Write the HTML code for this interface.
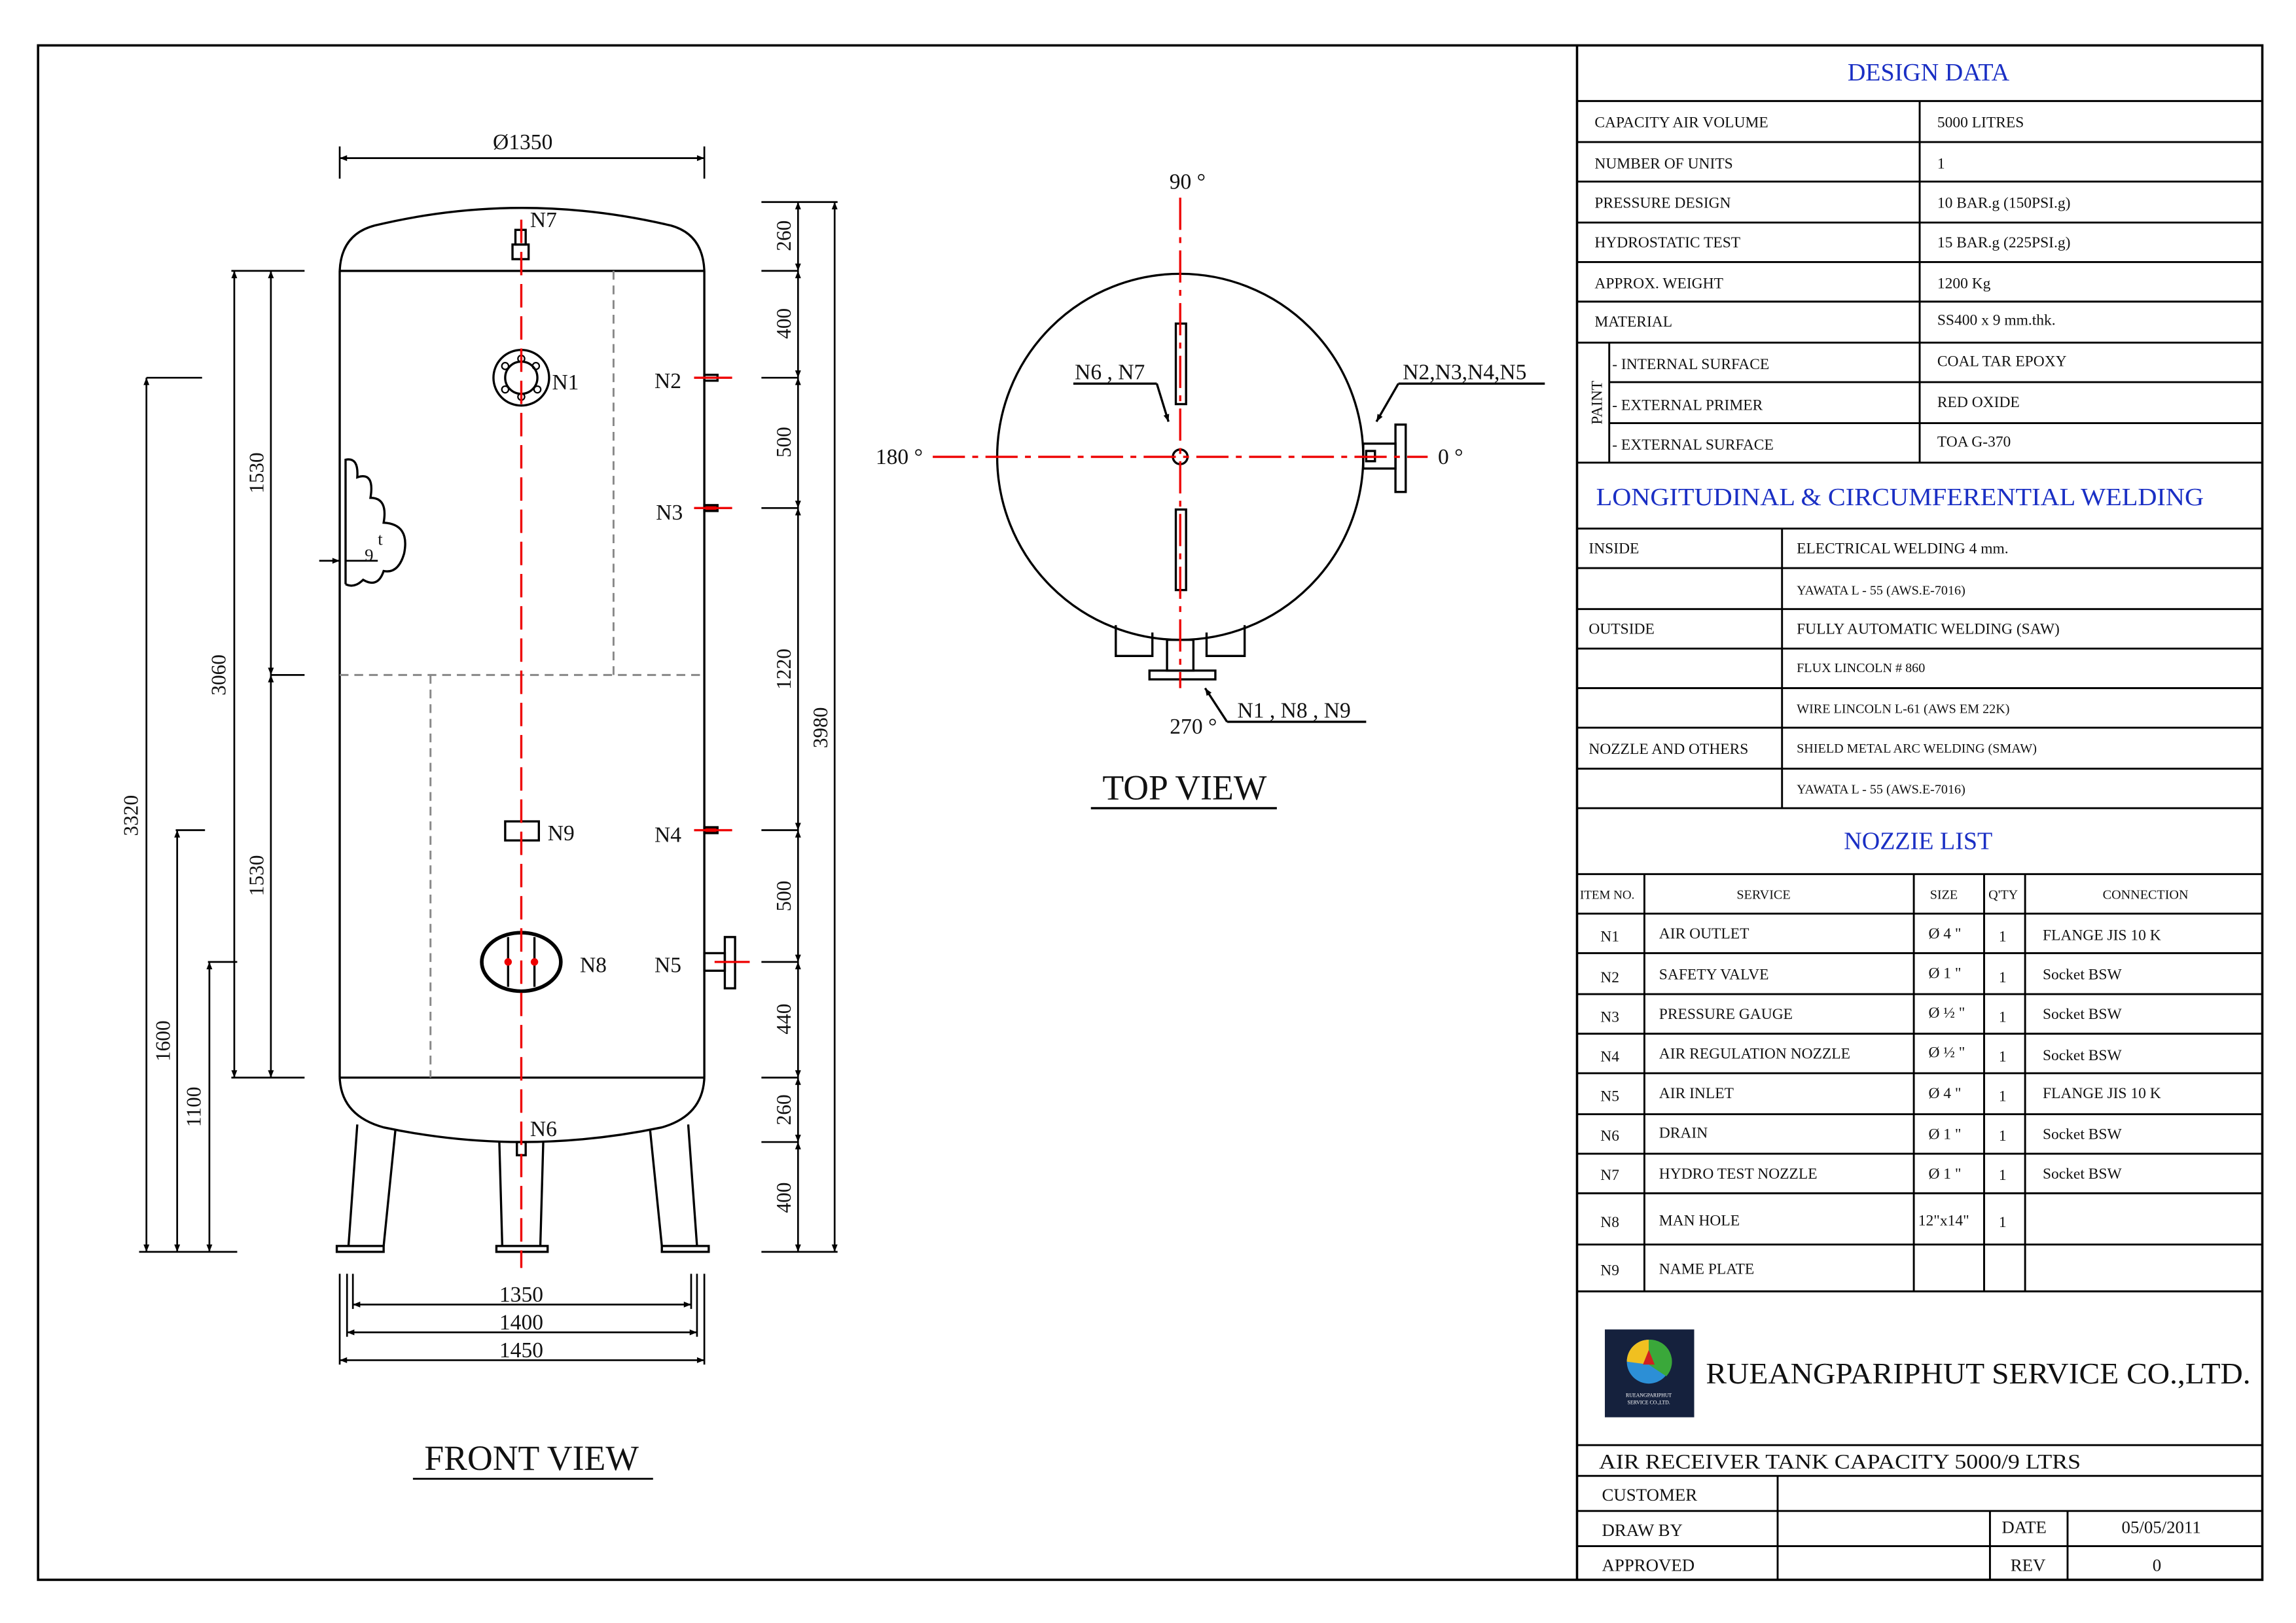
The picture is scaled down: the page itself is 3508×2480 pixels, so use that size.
<!DOCTYPE html>
<html><head><meta charset="utf-8"><style>
html,body{margin:0;padding:0;background:#fff}
svg{display:block}
text{font-family:"Liberation Serif",serif;fill:#111}
.t{font-size:10.5px}
.s{font-size:9px}
.b{fill:#1a2fc4;font-size:17px}
.d{font-size:15px}
</style></head><body>
<svg width="3508" height="2480" viewBox="0 0 1568 1108.5" xmlns="http://www.w3.org/2000/svg">
<defs>
<marker id="a" viewBox="0 0 10 10" refX="10" refY="5" markerWidth="8" markerHeight="5" orient="auto-start-reverse" markerUnits="userSpaceOnUse"><path d="M0,1 L10,5 L0,9 z" fill="#000"/></marker>
</defs>
<rect width="1568" height="1108.5" fill="#fff"/>
<rect x="26" y="31" width="1519" height="1048" fill="none" stroke="#000" stroke-width="1.6"/>
<line x1="1077" y1="31" x2="1077" y2="1079" stroke="#000" stroke-width="1.6"/>

<g stroke="#000" stroke-width="1.3">
<line x1="1077" y1="69" x2="1545" y2="69"/>
<line x1="1077" y1="97" x2="1545" y2="97"/>
<line x1="1077" y1="124" x2="1545" y2="124"/>
<line x1="1077" y1="152" x2="1545" y2="152"/>
<line x1="1077" y1="179" x2="1545" y2="179"/>
<line x1="1077" y1="206" x2="1545" y2="206"/>
<line x1="1077" y1="234" x2="1545" y2="234"/>
<line x1="1099" y1="261" x2="1545" y2="261"/>
<line x1="1099" y1="289" x2="1545" y2="289"/>
<line x1="1077" y1="316" x2="1545" y2="316"/>
<line x1="1311" y1="69" x2="1311" y2="316"/>
<line x1="1099" y1="234" x2="1099" y2="316"/>
<line x1="1077" y1="361" x2="1545" y2="361"/>
<line x1="1077" y1="388" x2="1545" y2="388"/>
<line x1="1077" y1="416" x2="1545" y2="416"/>
<line x1="1077" y1="443" x2="1545" y2="443"/>
<line x1="1077" y1="470" x2="1545" y2="470"/>
<line x1="1077" y1="497" x2="1545" y2="497"/>
<line x1="1077" y1="525" x2="1545" y2="525"/>
<line x1="1077" y1="552" x2="1545" y2="552"/>
<line x1="1217" y1="361" x2="1217" y2="552"/>
<line x1="1077" y1="597" x2="1545" y2="597"/>
<line x1="1077" y1="624" x2="1545" y2="624"/>
<line x1="1077" y1="651" x2="1545" y2="651"/>
<line x1="1077" y1="679" x2="1545" y2="679"/>
<line x1="1077" y1="706" x2="1545" y2="706"/>
<line x1="1077" y1="733" x2="1545" y2="733"/>
<line x1="1077" y1="761" x2="1545" y2="761"/>
<line x1="1077" y1="788" x2="1545" y2="788"/>
<line x1="1077" y1="815" x2="1545" y2="815"/>
<line x1="1077" y1="850" x2="1545" y2="850"/>
<line x1="1077" y1="882" x2="1545" y2="882"/>
<line x1="1123" y1="597" x2="1123" y2="882"/>
<line x1="1307" y1="597" x2="1307" y2="882"/>
<line x1="1355" y1="597" x2="1355" y2="882"/>
<line x1="1383" y1="597" x2="1383" y2="882"/>
<line x1="1077" y1="987" x2="1545" y2="987"/>
<line x1="1077" y1="1008" x2="1545" y2="1008"/>
<line x1="1077" y1="1032" x2="1545" y2="1032"/>
<line x1="1077" y1="1056" x2="1545" y2="1056"/>
<line x1="1214" y1="1008" x2="1214" y2="1079"/>
<line x1="1359" y1="1032" x2="1359" y2="1079"/>
<line x1="1412" y1="1032" x2="1412" y2="1079"/>
</g>
<text class="b" x="1317" y="55" text-anchor="middle">DESIGN DATA</text>
<g class="t">
<text x="1089" y="87">CAPACITY  AIR  VOLUME</text><text x="1323" y="87">5000  LITRES</text>
<text x="1089" y="115">NUMBER OF UNITS</text><text x="1323" y="115">1</text>
<text x="1089" y="142">PRESSURE  DESIGN</text><text x="1323" y="142">10   BAR.g   (150PSI.g)</text>
<text x="1089" y="169">HYDROSTATIC  TEST</text><text x="1323" y="169">15   BAR.g   (225PSI.g)</text>
<text x="1089" y="197">APPROX. WEIGHT</text><text x="1323" y="197">1200 Kg</text>
<text x="1089" y="223">MATERIAL</text><text x="1323" y="222">SS400 x 9 mm.thk.</text>
<text x="1101" y="252">- INTERNAL  SURFACE</text><text x="1323" y="250">COAL TAR EPOXY</text>
<text x="1101" y="280">- EXTERNAL  PRIMER</text><text x="1323" y="278">RED  OXIDE</text>
<text x="1101" y="307">- EXTERNAL  SURFACE</text><text x="1323" y="305">TOA G-370</text>
<text x="1094" y="275" transform="rotate(-90 1094 275)" text-anchor="middle">PAINT</text>
</g>
<text class="b" x="1090" y="345" textLength="415" lengthAdjust="spacingAndGlyphs">LONGITUDINAL &amp; CIRCUMFERENTIAL WELDING</text>
<g class="t">
<text x="1085" y="378">INSIDE</text><text x="1227" y="378">ELECTRICAL WELDING 4 mm.</text>
<text class="s" x="1227" y="406">YAWATA L - 55 (AWS.E-7016)</text>
<text x="1085" y="433">OUTSIDE</text><text x="1227" y="433">FULLY AUTOMATIC WELDING (SAW)</text>
<text class="s" x="1227" y="459">FLUX LINCOLN # 860</text>
<text class="s" x="1227" y="487">WIRE LINCOLN L-61 (AWS EM 22K)</text>
<text x="1085" y="515">NOZZLE AND OTHERS</text><text class="s" x="1227" y="514">SHIELD METAL ARC WELDING (SMAW)</text>
<text class="s" x="1227" y="542">YAWATA L - 55 (AWS.E-7016)</text>
</g>
<text class="b" x="1310" y="580" text-anchor="middle">NOZZIE  LIST</text>
<g class="s">
<text x="1079" y="614" font-size="8.5">ITEM NO.</text>
<text x="1186" y="614">SERVICE</text>
<text x="1318" y="614">SIZE</text>
<text x="1358" y="614">Q'TY</text>
<text x="1436" y="614">CONNECTION</text>
</g>
<g class="t">
<text x="1093" y="643">N1</text><text x="1133" y="641">AIR OUTLET</text><text x="1317" y="641">Ø 4 "</text><text x="1365" y="643">1</text><text x="1395" y="642">FLANGE  JIS 10 K</text>
<text x="1093" y="671">N2</text><text x="1133" y="669">SAFETY  VALVE</text><text x="1317" y="668">Ø 1 "</text><text x="1365" y="671">1</text><text x="1395" y="669">Socket  BSW</text>
<text x="1093" y="698">N3</text><text x="1133" y="696">PRESSURE  GAUGE</text><text x="1317" y="695">Ø ½ "</text><text x="1365" y="698">1</text><text x="1395" y="696">Socket  BSW</text>
<text x="1093" y="725">N4</text><text x="1133" y="723">AIR  REGULATION NOZZLE</text><text x="1317" y="722">Ø ½ "</text><text x="1365" y="725">1</text><text x="1395" y="724">Socket  BSW</text>
<text x="1093" y="752">N5</text><text x="1133" y="750">AIR INLET</text><text x="1317" y="750">Ø 4 "</text><text x="1365" y="752">1</text><text x="1395" y="750">FLANGE  JIS 10 K</text>
<text x="1093" y="779">N6</text><text x="1133" y="777">DRAIN</text><text x="1317" y="778">Ø 1 "</text><text x="1365" y="779">1</text><text x="1395" y="778">Socket  BSW</text>
<text x="1093" y="806">N7</text><text x="1133" y="805">HYDRO TEST NOZZLE</text><text x="1317" y="805">Ø 1 "</text><text x="1365" y="806">1</text><text x="1395" y="805">Socket  BSW</text>
<text x="1093" y="838">N8</text><text x="1133" y="837">MAN  HOLE</text><text x="1310" y="837">12"x14"</text><text x="1365" y="838">1</text>
<text x="1093" y="871">N9</text><text x="1133" y="870">NAME  PLATE</text>
</g>
<rect x="1096" y="908" width="61" height="60" fill="#15213d"/>
<circle cx="1126" cy="930" r="15" fill="#2c8fd6"/>
<path d="M1126,915 A15,15 0 0 0 1111,930 L1126,932 z" fill="#f0c020"/>
<path d="M1126,915 A15,15 0 0 1 1138,940 L1126,932 z" fill="#3aa83a"/>
<path d="M1122,932 L1126,922 L1130,932 z" fill="#d02020"/>
<text x="1126" y="954" font-size="3.5" style="fill:#fff" text-anchor="middle">RUEANGPARIPHUT</text>
<text x="1126" y="959" font-size="3.5" style="fill:#fff" text-anchor="middle">SERVICE CO.,LTD.</text>
<text x="1165" y="945" font-size="20.5" textLength="372" lengthAdjust="spacingAndGlyphs">RUEANGPARIPHUT SERVICE CO.,LTD.</text>
<text x="1092" y="1003" font-size="14" textLength="329" lengthAdjust="spacingAndGlyphs">AIR RECEIVER TANK CAPACITY 5000/9  LTRS</text>
<g font-size="12">
<text x="1094" y="1025">CUSTOMER</text>
<text x="1094" y="1049">DRAW BY</text>
<text x="1094" y="1073">APPROVED</text>
<text x="1367" y="1047">DATE</text>
<text x="1476" y="1047" text-anchor="middle">05/05/2011</text>
<text x="1373" y="1073">REV</text>
<text x="1473" y="1073" text-anchor="middle">0</text>
</g>

<g stroke="#000" fill="none" stroke-width="1.5">
<path d="M232,185 Q233,160 256,154 Q356,130 458,154 Q480,160 481,185"/>
<line x1="232" y1="185" x2="481" y2="185"/>
<line x1="232" y1="185" x2="232" y2="736"/>
<line x1="481" y1="185" x2="481" y2="736"/>
<line x1="232" y1="736" x2="481" y2="736"/>
<path d="M232,736 Q233,762 262,770 Q356,790 452,770 Q480,762 481,736"/>
<path d="M244,768 L238,851 M270,772 L262,851"/>
<path d="M341,780 L343,851 M371,780 L369,851"/>
<path d="M444,772 L452,851 M470,768 L476,851"/>
<rect x="230" y="851" width="32" height="4"/>
<rect x="339" y="851" width="35" height="4"/>
<rect x="452" y="851" width="32" height="4"/>
<rect x="352" y="157" width="7" height="10"/>
<rect x="350" y="167" width="11" height="10"/>
<ellipse cx="356" cy="258" rx="19" ry="19"/>
<ellipse cx="356" cy="258" rx="11" ry="11"/>
<g stroke-width="1"><circle cx="356" cy="245" r="2.3"/><circle cx="366" cy="250" r="2.3"/><circle cx="367" cy="266" r="2.3"/><circle cx="356" cy="271" r="2.3"/><circle cx="345" cy="266" r="2.3"/><circle cx="345" cy="250" r="2.3"/></g>
<rect x="481" y="256" width="9" height="4"/>
<rect x="481" y="345" width="9" height="4" fill="#c00"/>
<rect x="481" y="565" width="9" height="4" fill="#c00"/>
<rect x="481" y="651" width="14" height="12"/>
<rect x="495" y="640" width="7" height="35"/>
<rect x="345" y="561" width="23" height="13"/>
<ellipse cx="356" cy="657" rx="27" ry="20" stroke-width="2.5"/>
<line x1="347" y1="640" x2="347" y2="674"/>
<line x1="365" y1="640" x2="365" y2="674"/>
<rect x="353" y="780" width="6" height="9"/>
<path d="M236,399 L236,314 Q245,312 244,326 Q256,322 253,340 Q265,340 262,357 Q280,358 276,378 Q272,392 262,390 Q258,402 248,396 Q242,402 236,399"/>
</g>
<g stroke="#888" stroke-width="1.3" stroke-dasharray="6,4" fill="none">
<line x1="232" y1="461" x2="481" y2="461"/>
<line x1="419" y1="185" x2="419" y2="461"/>
<line x1="294" y1="461" x2="294" y2="736"/>
</g>
<g stroke="#e00" stroke-width="1.5" fill="none">
<line x1="356" y1="150" x2="356" y2="866" stroke-dasharray="16,6"/>
<line x1="474" y1="258" x2="500" y2="258"/>
<line x1="474" y1="347" x2="500" y2="347"/>
<line x1="474" y1="567" x2="500" y2="567"/>
<line x1="488" y1="657" x2="512" y2="657"/>
<circle cx="347" cy="657" r="1.8" fill="#e00"/><circle cx="365" cy="657" r="1.8" fill="#e00"/>
</g>
<g stroke="#000" stroke-width="1.2" fill="none">
<line x1="232" y1="100" x2="232" y2="122"/><line x1="481" y1="100" x2="481" y2="122"/>
<line x1="232" y1="108" x2="481" y2="108" marker-start="url(#a)" marker-end="url(#a)"/>
<line x1="520" y1="138" x2="572" y2="138"/>
<line x1="520" y1="185" x2="545" y2="185"/>
<line x1="520" y1="258" x2="545" y2="258"/>
<line x1="520" y1="347" x2="545" y2="347"/>
<line x1="520" y1="567" x2="545" y2="567"/>
<line x1="520" y1="657" x2="545" y2="657"/>
<line x1="520" y1="736" x2="545" y2="736"/>
<line x1="520" y1="780" x2="545" y2="780"/>
<line x1="520" y1="855" x2="572" y2="855"/>
<line x1="545" y1="138" x2="545" y2="185" marker-start="url(#a)" marker-end="url(#a)"/>
<line x1="545" y1="185" x2="545" y2="258" marker-start="url(#a)" marker-end="url(#a)"/>
<line x1="545" y1="258" x2="545" y2="347" marker-start="url(#a)" marker-end="url(#a)"/>
<line x1="545" y1="347" x2="545" y2="567" marker-start="url(#a)" marker-end="url(#a)"/>
<line x1="545" y1="567" x2="545" y2="657" marker-start="url(#a)" marker-end="url(#a)"/>
<line x1="545" y1="657" x2="545" y2="736" marker-start="url(#a)" marker-end="url(#a)"/>
<line x1="545" y1="736" x2="545" y2="780" marker-start="url(#a)" marker-end="url(#a)"/>
<line x1="545" y1="780" x2="545" y2="855" marker-start="url(#a)" marker-end="url(#a)"/>
<line x1="570" y1="138" x2="570" y2="855" marker-start="url(#a)" marker-end="url(#a)"/>
<line x1="100" y1="258" x2="138" y2="258"/>
<line x1="120" y1="567" x2="140" y2="567"/>
<line x1="142" y1="657" x2="162" y2="657"/>
<line x1="158" y1="185" x2="208" y2="185"/>
<line x1="185" y1="461" x2="208" y2="461"/>
<line x1="158" y1="736" x2="208" y2="736"/>
<line x1="95" y1="855" x2="162" y2="855"/>
<line x1="100" y1="258" x2="100" y2="855" marker-start="url(#a)" marker-end="url(#a)"/>
<line x1="121" y1="567" x2="121" y2="855" marker-start="url(#a)" marker-end="url(#a)"/>
<line x1="143" y1="657" x2="143" y2="855" marker-start="url(#a)" marker-end="url(#a)"/>
<line x1="160" y1="185" x2="160" y2="736" marker-start="url(#a)" marker-end="url(#a)"/>
<line x1="185" y1="185" x2="185" y2="461" marker-start="url(#a)" marker-end="url(#a)"/>
<line x1="185" y1="461" x2="185" y2="736" marker-start="url(#a)" marker-end="url(#a)"/>
<line x1="218" y1="383" x2="232" y2="383" marker-end="url(#a)"/>
<line x1="236" y1="383" x2="258" y2="383"/>
<line x1="232" y1="870" x2="232" y2="932"/><line x1="237" y1="870" x2="237" y2="913"/><line x1="241" y1="870" x2="241" y2="894"/>
<line x1="481" y1="870" x2="481" y2="932"/><line x1="476" y1="870" x2="476" y2="913"/><line x1="472" y1="870" x2="472" y2="894"/>
<line x1="241" y1="891" x2="472" y2="891" marker-start="url(#a)" marker-end="url(#a)"/>
<line x1="237" y1="910" x2="476" y2="910" marker-start="url(#a)" marker-end="url(#a)"/>
<line x1="232" y1="929" x2="481" y2="929" marker-start="url(#a)" marker-end="url(#a)"/>
<line x1="282" y1="1010" x2="446" y2="1010"/>
</g>
<g class="d">
<text x="357" y="102" text-anchor="middle">Ø1350</text>
<text x="362" y="155">N7</text>
<text x="377" y="266">N1</text>
<text x="447" y="265">N2</text>
<text x="448" y="355">N3</text>
<text x="447" y="575">N4</text>
<text x="447" y="664">N5</text>
<text x="374" y="574">N9</text>
<text x="396" y="664">N8</text>
<text x="362" y="776">N6</text>
<text x="356" y="889" text-anchor="middle">1350</text>
<text x="356" y="908" text-anchor="middle">1400</text>
<text x="356" y="927" text-anchor="middle">1450</text>
<text x="249" y="383" font-size="12">9</text>
<text x="258" y="372" font-size="12">t</text>
<g font-size="14">
<text transform="translate(540,161) rotate(-90)" text-anchor="middle">260</text>
<text transform="translate(540,221) rotate(-90)" text-anchor="middle">400</text>
<text transform="translate(540,302) rotate(-90)" text-anchor="middle">500</text>
<text transform="translate(540,457) rotate(-90)" text-anchor="middle">1220</text>
<text transform="translate(540,612) rotate(-90)" text-anchor="middle">500</text>
<text transform="translate(540,696) rotate(-90)" text-anchor="middle">440</text>
<text transform="translate(540,758) rotate(-90)" text-anchor="middle">260</text>
<text transform="translate(540,818) rotate(-90)" text-anchor="middle">400</text>
<text transform="translate(565,497) rotate(-90)" text-anchor="middle">3980</text>
<text transform="translate(94,557) rotate(-90)" text-anchor="middle">3320</text>
<text transform="translate(116,711) rotate(-90)" text-anchor="middle">1600</text>
<text transform="translate(137,756) rotate(-90)" text-anchor="middle">1100</text>
<text transform="translate(154,461) rotate(-90)" text-anchor="middle">3060</text>
<text transform="translate(180,323) rotate(-90)" text-anchor="middle">1530</text>
<text transform="translate(180,598) rotate(-90)" text-anchor="middle">1530</text>
</g>
</g>
<text x="363" y="1004" font-size="24" text-anchor="middle">FRONT VIEW</text>

<g stroke="#000" stroke-width="1.5" fill="none">
<circle cx="806" cy="312" r="125"/>
<circle cx="806" cy="312" r="5"/>
<rect x="803" y="221" width="7" height="55"/>
<rect x="803" y="348" width="7" height="55"/>
<path d="M762,427 L762,448 L787,448 L787,432 M850,427 L850,448 L824,448 L824,432"/>
<rect x="797" y="437" width="18" height="21"/>
<rect x="785" y="458" width="45" height="6"/>
<rect x="931" y="303" width="22" height="17"/>
<rect x="953" y="290" width="7" height="46"/>
<rect x="933" y="308" width="6" height="7"/>
<line x1="733" y1="262" x2="790" y2="262"/>
<line x1="790" y1="262" x2="798" y2="288" marker-end="url(#a)"/>
<line x1="955" y1="262" x2="1055" y2="262"/>
<line x1="955" y1="262" x2="940" y2="288" marker-end="url(#a)"/>
<line x1="838" y1="493" x2="933" y2="493"/>
<line x1="838" y1="493" x2="823" y2="470" marker-end="url(#a)"/>
<line x1="745" y1="552" x2="872" y2="552"/>
</g>
<g stroke="#e00" stroke-width="1.5" fill="none" stroke-dasharray="22,5,4,5">
<line x1="637" y1="312" x2="975" y2="312"/>
<line x1="806" y1="135" x2="806" y2="470"/>
</g>
<g class="d" font-size="14">
<text x="811" y="129" text-anchor="middle">90 °</text>
<text x="598" y="317">180 °</text>
<text x="982" y="317">0 °</text>
<text x="815" y="501" text-anchor="middle">270 °</text>
<text x="734" y="259">N6 , N7</text>
<text x="958" y="259">N2,N3,N4,N5</text>
<text x="845" y="490">N1 , N8 , N9</text>
</g>
<text x="809" y="546" font-size="24" text-anchor="middle">TOP VIEW</text>
</svg>
</body></html>
